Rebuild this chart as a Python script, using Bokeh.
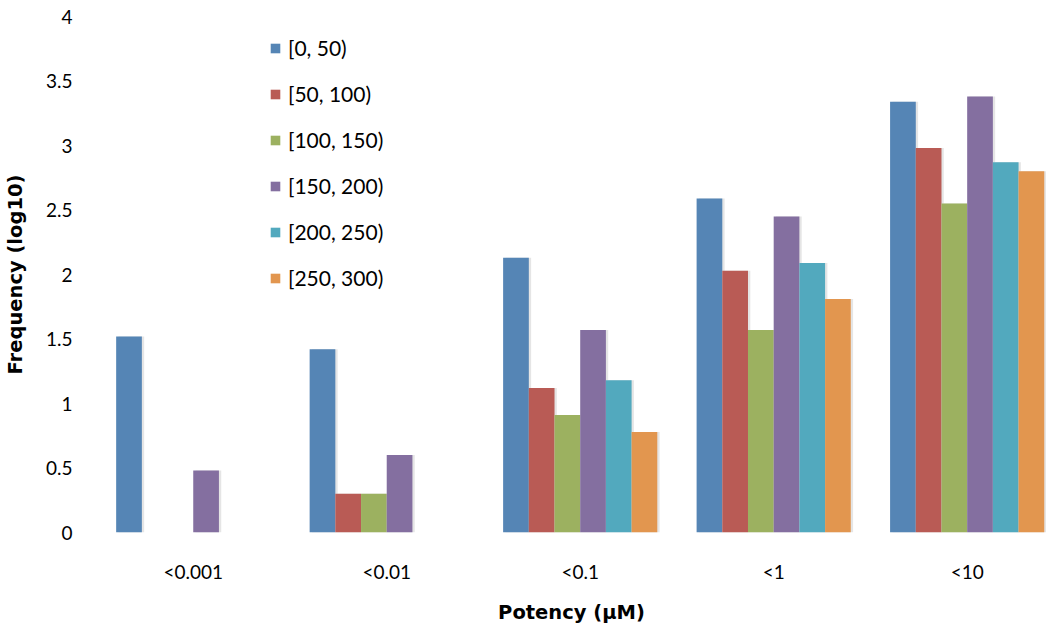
from bokeh.plotting import figure
from bokeh.models import ColumnDataSource, Range1d, FixedTicker, Legend, LegendItem
from bokeh.transform import dodge
from bokeh.embed import file_html
from bokeh.resources import INLINE

categories = ["<0.001", "<0.01", "<0.1", "<1", "<10"]
series_names = ["[0, 50)", "[50, 100)", "[100, 150)", "[150, 200)", "[200, 250)", "[250, 300)"]
s_0_50 = [1.52, 1.42, 2.13, 2.59, 3.34]
s_50_100 = [0.0, 0.30, 1.12, 2.03, 2.98]
s_100_150 = [0.0, 0.30, 0.91, 1.57, 2.55]
s_150_200 = [0.48, 0.60, 1.57, 2.45, 3.38]
s_200_250 = [0.0, 0.0, 1.18, 2.09, 2.87]
s_250_300 = [0.0, 0.0, 0.78, 1.81, 2.80]
y_ticks = [0, 0.5, 1, 1.5, 2, 2.5, 3, 3.5, 4]
y_tick_labels = ["0", "0.5", "1", "1.5", "2", "2.5", "3", "3.5", "4"]

series = [s_0_50, s_50_100, s_100_150, s_150_200, s_200_250, s_250_300]
colors = ["#5585B5", "#B95B55", "#9CB160", "#846FA0", "#52A9BE", "#E2964F"]

x_pos = [i + 0.5 for i in range(len(categories))]
data = {"x": x_pos}
for k, s in enumerate(series):
    data["s%d" % k] = s
src = ColumnDataSource(data)

p = figure(width=1046, height=626,
           x_range=Range1d(0, 4.91), y_range=Range1d(0, 4),
           output_backend="svg", toolbar_location=None,
           min_border_left=96, min_border_right=0,
           min_border_top=16, min_border_bottom=94)
p.outline_line_color = None
p.border_fill_color = "white"
p.xgrid.grid_line_color = None
p.ygrid.grid_line_color = None

bw = 0.1328
items = []
for k in range(6):
    off = (k - 2.5) * bw
    p.vbar(x=dodge("x", off + 0.012, range=p.x_range), top="s%d" % k, width=bw,
           source=src, fill_color="#000000", fill_alpha=0.10, line_color=None)
for k in range(6):
    off = (k - 2.5) * bw
    r = p.vbar(x=dodge("x", off, range=p.x_range), top="s%d" % k, width=bw,
               source=src, fill_color=colors[k], line_color=None)
    items.append(LegendItem(label=series_names[k], renderers=[r]))

legend = Legend(items=items, location=(173, 242))
legend.padding = 0
legend.margin = 0
legend.border_line_color = None
legend.background_fill_alpha = 0
legend.glyph_width = 12
legend.glyph_height = 12
legend.label_height = 12
legend.spacing = 21
legend.label_standoff = 7
legend.label_text_font = "Lato"
legend.label_text_font_size = "21px"
legend.label_text_color = "#000000"
p.add_layout(legend, "center")

# x axis
xa = p.xaxis[0]
xa.ticker = FixedTicker(ticks=x_pos)
xa.major_label_overrides = {x_pos[i]: categories[i] for i in range(len(categories))}
xa.axis_line_color = None
xa.major_tick_line_color = None
xa.minor_tick_line_color = None
xa.major_label_standoff = 21
xa.major_label_text_font = "Lato"
xa.major_label_text_font_size = "19px"
xa.major_label_text_color = "#000000"
xa.axis_label = "Potency (µM)"
xa.axis_label_text_font = "DejaVu Sans"
xa.axis_label_text_font_style = "bold"
xa.axis_label_text_font_size = "19.5px"
xa.axis_label_text_color = "#000000"
xa.axis_label_standoff = 15

# y axis
ya = p.yaxis[0]
ya.ticker = FixedTicker(ticks=y_ticks)
ya.major_label_overrides = {y_ticks[i]: y_tick_labels[i] for i in range(len(y_ticks))}
ya.axis_line_color = None
ya.major_tick_line_color = None
ya.minor_tick_line_color = None
ya.major_label_standoff = 18
ya.major_label_text_font = "Lato"
ya.major_label_text_font_size = "19px"
ya.major_label_text_color = "#000000"
ya.axis_label = "Frequency (log10)"
ya.axis_label_text_font = "DejaVu Sans"
ya.axis_label_text_font_style = "bold"
ya.axis_label_text_font_size = "19.5px"
ya.axis_label_text_color = "#000000"
ya.axis_label_standoff = 16

open("out.html", "w").write(file_html(p, INLINE))
